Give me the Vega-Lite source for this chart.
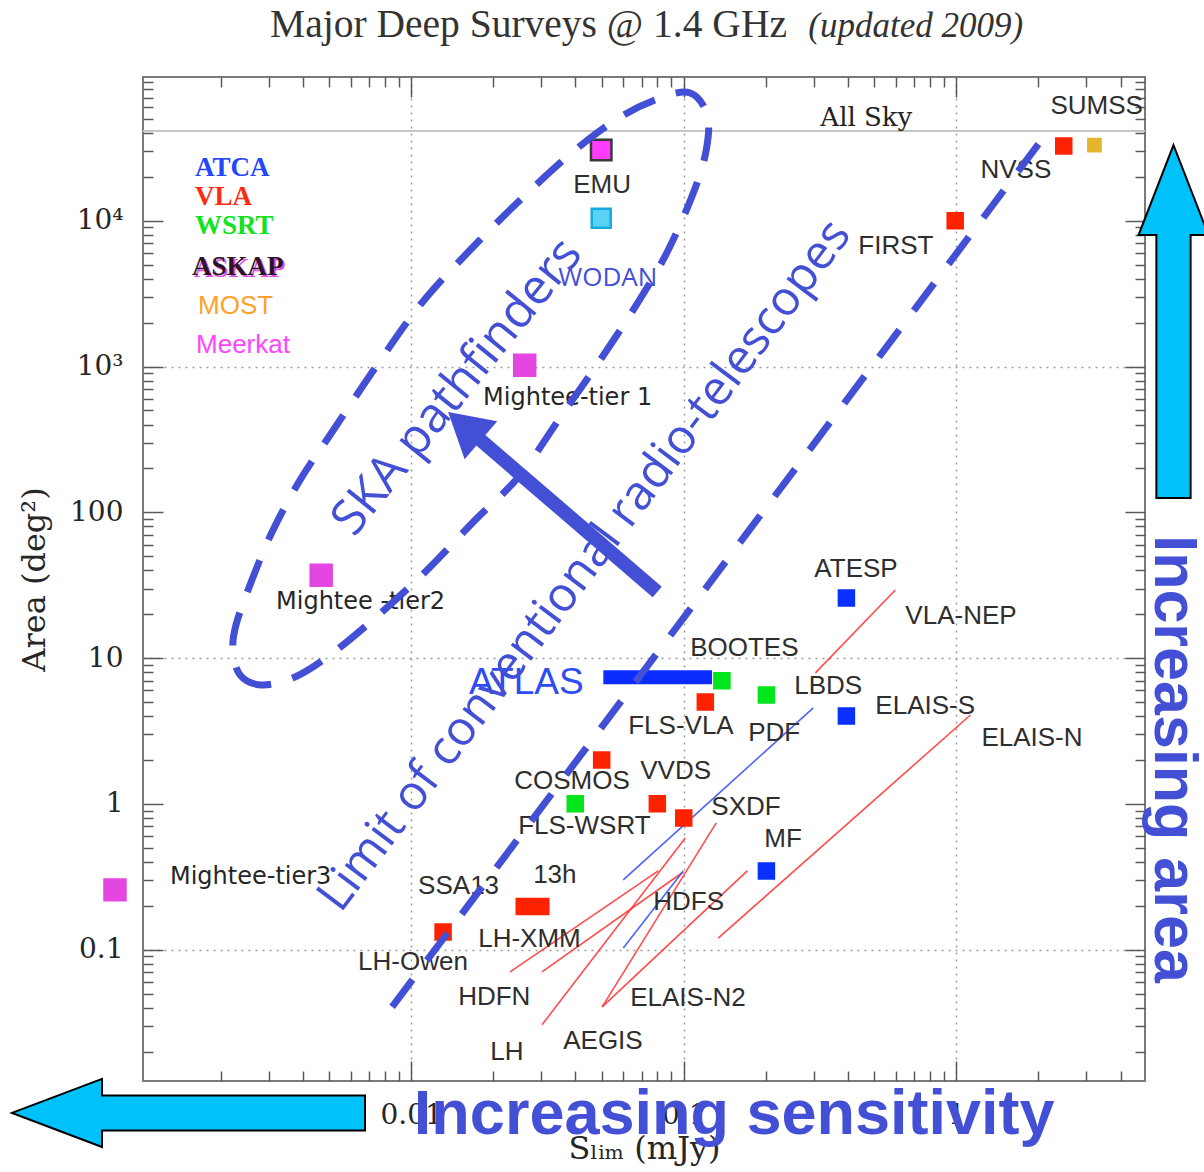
{
  "$schema": "https://vega.github.io/schema/vega-lite/v6.json",
  "width": 1002,
  "height": 1004,
  "autosize": {"type": "none"},
  "padding": {"left": 143, "top": 77, "right": 59, "bottom": 91},
  "background": "#ffffff",
  "config": {
    "view": {"stroke": "#7a7a7a", "strokeWidth": 2},
    "axis": {
      "domain": false,
      "grid": false,
      "tickColor": "#5a5a5a",
      "tickWidth": 1.5,
      "labelFont": "DejaVu Serif",
      "labelFontSize": 28,
      "labelColor": "#262626",
      "titleFont": "DejaVu Serif",
      "titleFontSize": 32,
      "titleFontWeight": "normal",
      "titleColor": "#262626"
    }
  },
  "datasets": {
    "sky": [{"area": 41253}],
    "surveys": [
      {"name": "EMU", "tel": "ASKAP", "s": 0.0498, "area": 30540},
      {"name": "WODAN", "tel": "Apertif", "s": 0.0498, "area": 10400},
      {"name": "Mightee-tier 1", "tel": "Meerkat", "s": 0.0261, "area": 1020},
      {"name": "Mightee-tier2", "tel": "Meerkat", "s": 0.00468, "area": 37},
      {"name": "Mightee-tier3", "tel": "Meerkat", "s": 0.00082, "area": 0.257},
      {"name": "NVSS", "tel": "VLA", "s": 2.476, "area": 32530},
      {"name": "SUMSS", "tel": "MOST", "s": 3.209, "area": 33060},
      {"name": "FIRST", "tel": "VLA", "s": 0.99, "area": 10000},
      {"name": "ATESP", "tel": "ATCA", "s": 0.395, "area": 25.8},
      {"name": "ELAIS-S", "tel": "ATCA", "s": 0.395, "area": 4.0},
      {"name": "MF", "tel": "ATCA", "s": 0.201, "area": 0.347},
      {"name": "BOOTES", "tel": "WSRT", "s": 0.138, "area": 7.0},
      {"name": "PDF", "tel": "WSRT", "s": 0.201, "area": 5.58},
      {"name": "FLS-VLA", "tel": "VLA", "s": 0.12, "area": 5.0},
      {"name": "COSMOS", "tel": "VLA", "s": 0.05, "area": 2.0},
      {"name": "FLS-WSRT", "tel": "WSRT", "s": 0.04, "area": 1.0},
      {"name": "VVDS", "tel": "VLA", "s": 0.08, "area": 1.0},
      {"name": "SXDF", "tel": "VLA", "s": 0.1, "area": 0.8},
      {"name": "13h", "tel": "VLA", "s": 0.026, "area": 0.198},
      {"name": "13h", "tel": "VLA", "s": 0.0299, "area": 0.198},
      {"name": "SSA13", "tel": "VLA", "s": 0.0131, "area": 0.132}
    ],
    "tracks": [
      {"id": "VLA-NEP", "tel": "VLA", "s": 0.304, "area": 7.91},
      {"id": "VLA-NEP", "tel": "VLA", "s": 0.597, "area": 29.3},
      {"id": "ELAIS-N", "tel": "VLA", "s": 0.1338, "area": 0.12},
      {"id": "ELAIS-N", "tel": "VLA", "s": 1.126, "area": 4.07},
      {"id": "HDFN", "tel": "VLA", "s": 0.02307, "area": 0.0703},
      {"id": "HDFN", "tel": "VLA", "s": 0.0806, "area": 0.3467},
      {"id": "LH-XMM", "tel": "VLA", "s": 0.0302, "area": 0.0703},
      {"id": "LH-XMM", "tel": "VLA", "s": 0.0996, "area": 0.341},
      {"id": "LH", "tel": "VLA", "s": 0.0302, "area": 0.0305},
      {"id": "LH", "tel": "VLA", "s": 0.1013, "area": 0.583},
      {"id": "AEGIS", "tel": "VLA", "s": 0.0502, "area": 0.0405},
      {"id": "AEGIS", "tel": "VLA", "s": 0.1316, "area": 0.74},
      {"id": "ELAIS-N2", "tel": "VLA", "s": 0.0502, "area": 0.0405},
      {"id": "ELAIS-N2", "tel": "VLA", "s": 0.171, "area": 0.3467},
      {"id": "LBDS", "tel": "ATCA", "s": 0.06, "area": 0.3006},
      {"id": "LBDS", "tel": "ATCA", "s": 0.2985, "area": 4.55},
      {"id": "HDFS", "tel": "ATCA", "s": 0.06, "area": 0.1028},
      {"id": "HDFS", "tel": "ATCA", "s": 0.0996, "area": 0.3467}
    ],
    "atlas": [{"s0": 0.0507, "s1": 0.127, "area": 7.4}],
    "names": [
      {"text": "SUMSS", "s": 2.213, "area": 61200},
      {"text": "NVSS", "s": 1.225, "area": 22270},
      {"text": "FIRST", "s": 0.4368, "area": 6707},
      {"text": "EMU", "s": 0.03931, "area": 17580},
      {"text": "ATESP", "s": 0.3013, "area": 40.85},
      {"text": "VLA-NEP", "s": 0.6499, "area": 19.45},
      {"text": "BOOTES", "s": 0.1056, "area": 11.73},
      {"text": "LBDS", "s": 0.2543, "area": 6.437},
      {"text": "ELAIS-S", "s": 0.5044, "area": 4.693},
      {"text": "ELAIS-N", "s": 1.235, "area": 2.831},
      {"text": "FLS-VLA", "s": 0.06255, "area": 3.422},
      {"text": "PDF", "s": 0.1724, "area": 3.064},
      {"text": "COSMOS", "s": 0.02388, "area": 1.436},
      {"text": "VVDS", "s": 0.06925, "area": 1.681},
      {"text": "FLS-WSRT", "s": 0.0247, "area": 0.7055},
      {"text": "SXDF", "s": 0.1262, "area": 0.9521},
      {"text": "MF", "s": 0.1974, "area": 0.5743},
      {"text": "SSA13", "s": 0.01061, "area": 0.2734},
      {"text": "13h", "s": 0.02803, "area": 0.3253},
      {"text": "HDFS", "s": 0.07727, "area": 0.2125},
      {"text": "LH-XMM", "s": 0.01762, "area": 0.1184},
      {"text": "LH-Owen", "s": 0.006391, "area": 0.08234},
      {"text": "HDFN", "s": 0.01488, "area": 0.04738},
      {"text": "ELAIS-N2", "s": 0.06363, "area": 0.04663},
      {"text": "AEGIS", "s": 0.03613, "area": 0.02365},
      {"text": "LH", "s": 0.0195, "area": 0.01988}
    ],
    "mightee": [
      {"text": "Mightee-tier 1", "s": 0.01837, "area": 608.1},
      {"text": "Mightee -tier2", "s": 0.003196, "area": 24.25},
      {"text": "Mightee-tier3", "s": 0.001305, "area": 0.3152}
    ],
    "key": [
      {"text": "ATCA", "tel": "ATCA", "s": 0.001612, "area": 22990},
      {"text": "VLA", "tel": "VLA", "s": 0.001612, "area": 14540},
      {"text": "WSRT", "tel": "WSRT", "s": 0.001612, "area": 9196},
      {"text": "ASKAP", "tel": "ASKAP", "s": 0.001571, "area": 4812},
      {"text": "MOST", "tel": "MOST", "s": 0.001654, "area": 2600},
      {"text": "Meerkat", "tel": "Meerkat", "s": 0.001626, "area": 1404}
    ],
    "pathfinders": [
      {"i": 0, "s": 0.002222, "area": 11.36},
      {"i": 1, "s": 0.002358, "area": 7.66},
      {"i": 2, "s": 0.002838, "area": 6.54},
      {"i": 3, "s": 0.003752, "area": 7.42},
      {"i": 4, "s": 0.005044, "area": 10.5},
      {"i": 5, "s": 0.007377, "area": 18.84},
      {"i": 6, "s": 0.011256, "area": 38.96},
      {"i": 7, "s": 0.01718, "area": 88.55},
      {"i": 8, "s": 0.02512, "area": 180.3},
      {"i": 9, "s": 0.03613, "area": 479.9},
      {"i": 10, "s": 0.04938, "area": 1108},
      {"i": 11, "s": 0.06808, "area": 2770},
      {"i": 12, "s": 0.08697, "area": 6100},
      {"i": 13, "s": 0.1084, "area": 15490},
      {"i": 14, "s": 0.1209, "area": 30540},
      {"i": 15, "s": 0.122, "area": 53090},
      {"i": 16, "s": 0.1056, "area": 75130},
      {"i": 17, "s": 0.08199, "area": 69430},
      {"i": 18, "s": 0.05848, "area": 51430},
      {"i": 19, "s": 0.03997, "area": 30540},
      {"i": 20, "s": 0.02555, "area": 14310},
      {"i": 21, "s": 0.01646, "area": 6295},
      {"i": 22, "s": 0.01079, "area": 2642},
      {"i": 23, "s": 0.007377, "area": 976.6},
      {"i": 24, "s": 0.005044, "area": 339.0},
      {"i": 25, "s": 0.003915, "area": 166.5},
      {"i": 26, "s": 0.003091, "area": 73.25},
      {"i": 27, "s": 0.002565, "area": 31.72},
      {"i": 28, "s": 0.002279, "area": 16.87}
    ],
    "limit": [
      {"s": 0.00852, "area": 0.0405},
      {"s": 2.213, "area": 43200}
    ],
    "notes": [
      {"text": "SKA pathfinders", "s": 0.01475, "area": 723.5},
      {"text": "Limit of conventional radio-telescopes", "s": 0.04349, "area": 42.82}
    ],
    "wodan": [{"text": "WODAN", "s": 0.03462, "area": 4046}],
    "atlasName": [{"text": "ATLAS", "s": 0.01632, "area": 6.75}],
    "push": [{"s0": 0.07993, "a0": 28.41, "s1": 0.01762, "a1": 323.3, "s": 0.0157, "area": 390.1}],
    "heading": [
      {"text": "Major Deep Surveys @ 1.4 GHz", "s": 0.003039, "area": 181970},
      {"text": "(updated 2009)", "s": 0.2863, "area": 181970}
    ],
    "skyName": [{"text": "All Sky", "s": 0.317, "area": 50630}],
    "pointers": [
      {"dir": "sensitivity", "s": 0.001526, "area": 0.007586},
      {"dir": "area", "s": 6.256, "area": 2035}
    ],
    "captions": [
      {"text": "Increasing sensitivity", "s": 0.1532, "area": 0.005445},
      {"text": "Increasing area", "s": 5.373, "area": 2.03}
    ]
  },
  "layer": [
    {
      "data": {"name": "sky"},
      "mark": {"type": "rule", "color": "#c4c4c4", "strokeWidth": 2},
      "encoding": {
        "y": {"field": "area", "type": "quantitative", "scale": {"type": "log", "domain": [0.01256, 96800], "nice": false}, "axis": null}
      }
    },
    {
      "data": {"name": "tracks"},
      "mark": {"type": "line", "strokeWidth": 1.6, "opacity": 0.85},
      "encoding": {
        "x": {"field": "s", "type": "quantitative", "scale": {"type": "log", "domain": [0.001039, 4.918], "nice": false}, "axis": null},
        "y": {"field": "area", "type": "quantitative", "scale": {"type": "log", "domain": [0.01256, 96800], "nice": false},
              "axis": {"orient": "left", "values": [0.1, 10, 1000], "ticks": false, "labels": false, "grid": true, "gridDash": [2, 5], "gridColor": "#9c9c9c", "gridWidth": 1.5, "title": null}},
        "detail": {"field": "id"},
        "color": {"field": "tel", "type": "nominal", "scale": {"domain": ["VLA", "ATCA"], "range": ["#ff2d2d", "#2f46ff"]}, "legend": null}
      }
    },
    {
      "data": {"name": "surveys"},
      "mark": {"type": "point", "shape": "square", "filled": true, "opacity": 1, "strokeWidth": 2.5, "clip": false},
      "encoding": {
        "x": {"field": "s", "type": "quantitative", "scale": {"type": "log", "domain": [0.001039, 4.918], "nice": false},
              "axis": {"orient": "bottom", "values": [0.01, 0.1, 1], "labelExpr": "datum.value < 0.05 ? '0.01' : datum.value < 0.5 ? '0.1' : '1'", "tickSize": -20, "labelPadding": 40, "labelFlush": false, "labelOverlap": false, "grid": true, "gridDash": [2, 5], "gridColor": "#9c9c9c", "gridWidth": 1.5, "title": "Sₗᵢₘ (mJy)", "titlePadding": 4}},
        "y": {"field": "area", "type": "quantitative", "scale": {"type": "log", "domain": [0.01256, 96800], "nice": false},
              "axis": {"orient": "left", "values": [0.1, 1, 10, 100, 1000, 10000], "labelExpr": "datum.value >= 5000 ? '10⁴' : datum.value >= 500 ? '10³' : datum.value >= 50 ? '100' : datum.value >= 5 ? '10' : datum.value >= 0.5 ? '1' : '0.1'", "tickSize": -20, "labelPadding": 40, "labelFlush": false, "labelOverlap": false, "title": "Area (deg²)", "titlePadding": 18}},
        "fill": {"field": "tel", "type": "nominal", "scale": {"domain": ["ATCA", "VLA", "WSRT", "ASKAP", "MOST", "Meerkat", "Apertif"], "range": ["#0a30ff", "#ff2200", "#00e51c", "#ff3cff", "#e6b52e", "#e446e2", "#5ad2f6"]}, "legend": null},
        "stroke": {"field": "tel", "type": "nominal", "scale": {"domain": ["ATCA", "VLA", "WSRT", "ASKAP", "MOST", "Meerkat", "Apertif"], "range": ["#0a30ff", "#ff2200", "#00e51c", "#3a3a3a", "#e6b52e", "#e446e2", "#14acdf"]}, "legend": null},
        "size": {"field": "tel", "type": "nominal", "scale": {"type": "ordinal", "domain": ["ATCA", "VLA", "WSRT", "ASKAP", "MOST", "Meerkat", "Apertif"], "range": [225, 225, 225, 420, 150, 440, 360]}, "legend": null}
      }
    },
    {
      "data": {"name": "atlas"},
      "mark": {"type": "rule", "color": "#0a2cff", "strokeWidth": 14},
      "encoding": {
        "x": {"field": "s0", "type": "quantitative", "scale": {"type": "log", "domain": [0.001039, 4.918], "nice": false}, "axis": null},
        "x2": {"field": "s1"},
        "y": {"field": "area", "type": "quantitative", "scale": {"type": "log", "domain": [0.01256, 96800], "nice": false}, "axis": null}
      }
    },
    {
      "data": {"name": "names"},
      "mark": {"type": "text", "align": "left", "baseline": "middle", "font": "Liberation Sans", "fontSize": 26, "color": "#2e2e2e", "clip": false},
      "encoding": {
        "x": {"field": "s", "type": "quantitative", "scale": {"type": "log", "domain": [0.001039, 4.918], "nice": false},
              "axis": {"orient": "bottom", "values": [0.002, 0.003, 0.004, 0.005, 0.006, 0.007, 0.008, 0.009, 0.02, 0.03, 0.04, 0.05, 0.06, 0.07, 0.08, 0.09, 0.2, 0.3, 0.4, 0.5, 0.6, 0.7, 0.8, 0.9, 2, 3, 4], "tickSize": -10, "labels": false, "title": null}},
        "y": {"field": "area", "type": "quantitative", "scale": {"type": "log", "domain": [0.01256, 96800], "nice": false},
              "axis": {"orient": "left", "values": [0.02, 0.03, 0.04, 0.05, 0.06, 0.07, 0.08, 0.09, 0.2, 0.3, 0.4, 0.5, 0.6, 0.7, 0.8, 0.9, 2, 3, 4, 5, 6, 7, 8, 9, 20, 30, 40, 50, 60, 70, 80, 90, 200, 300, 400, 500, 600, 700, 800, 900, 2000, 3000, 4000, 5000, 6000, 7000, 8000, 9000, 20000, 30000, 40000, 50000, 60000, 70000, 80000, 90000], "tickSize": -10, "labels": false, "title": null}},
        "text": {"field": "text"}
      }
    },
    {
      "data": {"name": "mightee"},
      "mark": {"type": "text", "align": "left", "baseline": "middle", "font": "DejaVu Sans", "fontSize": 24, "color": "#262626", "clip": false},
      "encoding": {
        "x": {"field": "s", "type": "quantitative", "scale": {"type": "log", "domain": [0.001039, 4.918], "nice": false}, "axis": null},
        "y": {"field": "area", "type": "quantitative", "scale": {"type": "log", "domain": [0.01256, 96800], "nice": false}, "axis": null},
        "text": {"field": "text"}
      }
    },
    {
      "data": {"name": "key"},
      "transform": [{"filter": "datum.tel === 'ASKAP'"}],
      "mark": {"type": "text", "align": "left", "baseline": "middle", "font": "Liberation Serif", "fontSize": 27, "fontWeight": "bold", "color": "#e21fe2", "dx": 2, "dy": 2, "opacity": 0.8},
      "encoding": {
        "x": {"field": "s", "type": "quantitative", "scale": {"type": "log", "domain": [0.001039, 4.918], "nice": false}, "axis": null},
        "y": {"field": "area", "type": "quantitative", "scale": {"type": "log", "domain": [0.01256, 96800], "nice": false}, "axis": null},
        "text": {"field": "text"}
      }
    },
    {
      "data": {"name": "key"},
      "transform": [{"filter": "datum.tel === 'ATCA' || datum.tel === 'VLA' || datum.tel === 'WSRT' || datum.tel === 'ASKAP'"}],
      "mark": {"type": "text", "align": "left", "baseline": "middle", "font": "Liberation Serif", "fontSize": 27, "fontWeight": "bold"},
      "encoding": {
        "x": {"field": "s", "type": "quantitative", "scale": {"type": "log", "domain": [0.001039, 4.918], "nice": false}, "axis": null},
        "y": {"field": "area", "type": "quantitative", "scale": {"type": "log", "domain": [0.01256, 96800], "nice": false}, "axis": null},
        "text": {"field": "text"},
        "color": {"field": "tel", "type": "nominal", "scale": {"domain": ["ATCA", "VLA", "WSRT", "ASKAP"], "range": ["#2347ff", "#ff2b12", "#12e31c", "#2a142a"]}, "legend": null}
      }
    },
    {
      "data": {"name": "key"},
      "transform": [{"filter": "datum.tel === 'MOST' || datum.tel === 'Meerkat'"}],
      "mark": {"type": "text", "align": "left", "baseline": "middle", "font": "Liberation Sans", "fontSize": 26},
      "encoding": {
        "x": {"field": "s", "type": "quantitative", "scale": {"type": "log", "domain": [0.001039, 4.918], "nice": false}, "axis": null},
        "y": {"field": "area", "type": "quantitative", "scale": {"type": "log", "domain": [0.01256, 96800], "nice": false}, "axis": null},
        "text": {"field": "text"},
        "color": {"field": "tel", "type": "nominal", "scale": {"domain": ["MOST", "Meerkat"], "range": ["#ffa22a", "#ff45ff"]}, "legend": null}
      }
    },
    {
      "data": {"name": "atlasName"},
      "mark": {"type": "text", "align": "left", "baseline": "middle", "font": "Liberation Sans", "fontSize": 37, "color": "#2d4cf5"},
      "encoding": {
        "x": {"field": "s", "type": "quantitative", "scale": {"type": "log", "domain": [0.001039, 4.918], "nice": false}, "axis": null},
        "y": {"field": "area", "type": "quantitative", "scale": {"type": "log", "domain": [0.01256, 96800], "nice": false}, "axis": null},
        "text": {"field": "text"}
      }
    },
    {
      "data": {"name": "wodan"},
      "mark": {"type": "text", "align": "left", "baseline": "middle", "font": "Open Sans", "fontSize": 26, "color": "#4350d6"},
      "encoding": {
        "x": {"field": "s", "type": "quantitative", "scale": {"type": "log", "domain": [0.001039, 4.918], "nice": false}, "axis": null},
        "y": {"field": "area", "type": "quantitative", "scale": {"type": "log", "domain": [0.01256, 96800], "nice": false}, "axis": null},
        "text": {"field": "text"}
      }
    },
    {
      "data": {"name": "pathfinders"},
      "mark": {"type": "line", "interpolate": "cardinal-closed", "color": "#4350d6", "strokeWidth": 7, "strokeDash": [34, 22], "strokeCap": "butt"},
      "encoding": {
        "x": {"field": "s", "type": "quantitative", "scale": {"type": "log", "domain": [0.001039, 4.918], "nice": false},
              "axis": {"orient": "top", "values": [0.01, 0.1, 1], "tickSize": -20, "labels": false, "title": null}},
        "y": {"field": "area", "type": "quantitative", "scale": {"type": "log", "domain": [0.01256, 96800], "nice": false},
              "axis": {"orient": "right", "values": [0.1, 1, 10, 100, 1000, 10000], "tickSize": -20, "labels": false, "title": null}},
        "order": {"field": "i", "type": "quantitative"}
      }
    },
    {
      "data": {"name": "limit"},
      "mark": {"type": "line", "color": "#4350d6", "strokeWidth": 7, "strokeDash": [34, 24], "strokeCap": "butt"},
      "encoding": {
        "x": {"field": "s", "type": "quantitative", "scale": {"type": "log", "domain": [0.001039, 4.918], "nice": false},
              "axis": {"orient": "top", "values": [0.002, 0.003, 0.004, 0.005, 0.006, 0.007, 0.008, 0.009, 0.02, 0.03, 0.04, 0.05, 0.06, 0.07, 0.08, 0.09, 0.2, 0.3, 0.4, 0.5, 0.6, 0.7, 0.8, 0.9, 2, 3, 4], "tickSize": -10, "labels": false, "title": null}},
        "y": {"field": "area", "type": "quantitative", "scale": {"type": "log", "domain": [0.01256, 96800], "nice": false},
              "axis": {"orient": "right", "values": [0.02, 0.03, 0.04, 0.05, 0.06, 0.07, 0.08, 0.09, 0.2, 0.3, 0.4, 0.5, 0.6, 0.7, 0.8, 0.9, 2, 3, 4, 5, 6, 7, 8, 9, 20, 30, 40, 50, 60, 70, 80, 90, 200, 300, 400, 500, 600, 700, 800, 900, 2000, 3000, 4000, 5000, 6000, 7000, 8000, 9000, 20000, 30000, 40000, 50000, 60000, 70000, 80000, 90000], "tickSize": -10, "labels": false, "title": null}}
      }
    },
    {
      "data": {"name": "notes"},
      "transform": [{"filter": "datum.text === 'SKA pathfinders'"}],
      "mark": {"type": "text", "align": "center", "baseline": "middle", "font": "Open Sans", "fontSize": 49, "color": "#4350d6", "angle": 309},
      "encoding": {
        "x": {"field": "s", "type": "quantitative", "scale": {"type": "log", "domain": [0.001039, 4.918], "nice": false}, "axis": null},
        "y": {"field": "area", "type": "quantitative", "scale": {"type": "log", "domain": [0.01256, 96800], "nice": false}, "axis": null},
        "text": {"field": "text"}
      }
    },
    {
      "data": {"name": "notes"},
      "transform": [{"filter": "datum.text !== 'SKA pathfinders'"}],
      "mark": {"type": "text", "align": "center", "baseline": "middle", "font": "Open Sans", "fontSize": 48, "color": "#4350d6", "angle": 307},
      "encoding": {
        "x": {"field": "s", "type": "quantitative", "scale": {"type": "log", "domain": [0.001039, 4.918], "nice": false}, "axis": null},
        "y": {"field": "area", "type": "quantitative", "scale": {"type": "log", "domain": [0.01256, 96800], "nice": false}, "axis": null},
        "text": {"field": "text"}
      }
    },
    {
      "data": {"name": "push"},
      "mark": {"type": "rule", "color": "#4350d6", "strokeWidth": 14, "strokeCap": "butt"},
      "encoding": {
        "x": {"field": "s0", "type": "quantitative", "scale": {"type": "log", "domain": [0.001039, 4.918], "nice": false}, "axis": null},
        "y": {"field": "a0", "type": "quantitative", "scale": {"type": "log", "domain": [0.01256, 96800], "nice": false}, "axis": null},
        "x2": {"field": "s1"},
        "y2": {"field": "a1"}
      }
    },
    {
      "data": {"name": "push"},
      "mark": {"type": "point", "shape": "triangle-up", "filled": true, "color": "#4350d6", "opacity": 1, "size": 2500, "angle": 310.7},
      "encoding": {
        "x": {"field": "s", "type": "quantitative", "scale": {"type": "log", "domain": [0.001039, 4.918], "nice": false}, "axis": null},
        "y": {"field": "area", "type": "quantitative", "scale": {"type": "log", "domain": [0.01256, 96800], "nice": false}, "axis": null}
      }
    },
    {
      "data": {"name": "heading"},
      "transform": [{"filter": "datum.text !== '(updated 2009)'"}],
      "mark": {"type": "text", "align": "left", "baseline": "alphabetic", "font": "Liberation Serif", "fontSize": 39.5, "color": "#333333", "clip": false},
      "encoding": {
        "x": {"field": "s", "type": "quantitative", "scale": {"type": "log", "domain": [0.001039, 4.918], "nice": false}, "axis": null},
        "y": {"field": "area", "type": "quantitative", "scale": {"type": "log", "domain": [0.01256, 96800], "nice": false}, "axis": null},
        "text": {"field": "text"}
      }
    },
    {
      "data": {"name": "heading"},
      "transform": [{"filter": "datum.text === '(updated 2009)'"}],
      "mark": {"type": "text", "align": "left", "baseline": "alphabetic", "font": "Liberation Serif", "fontStyle": "italic", "fontSize": 35, "color": "#333333", "clip": false},
      "encoding": {
        "x": {"field": "s", "type": "quantitative", "scale": {"type": "log", "domain": [0.001039, 4.918], "nice": false}, "axis": null},
        "y": {"field": "area", "type": "quantitative", "scale": {"type": "log", "domain": [0.01256, 96800], "nice": false}, "axis": null},
        "text": {"field": "text"}
      }
    },
    {
      "data": {"name": "skyName"},
      "mark": {"type": "text", "align": "left", "baseline": "middle", "font": "DejaVu Serif", "fontSize": 26, "color": "#222222"},
      "encoding": {
        "x": {"field": "s", "type": "quantitative", "scale": {"type": "log", "domain": [0.001039, 4.918], "nice": false}, "axis": null},
        "y": {"field": "area", "type": "quantitative", "scale": {"type": "log", "domain": [0.01256, 96800], "nice": false}, "axis": null},
        "text": {"field": "text"}
      }
    },
    {
      "data": {"name": "pointers"},
      "transform": [{"filter": "datum.dir === 'sensitivity'"}],
      "mark": {"type": "point", "shape": "M-1,0L-0.49,-0.193L-0.49,-0.099L1,-0.099L1,0.099L-0.49,0.099L-0.49,0.193Z", "filled": true, "fill": "#00c2fb", "stroke": "#000000", "strokeWidth": 2, "opacity": 1, "size": 124609, "clip": false},
      "encoding": {
        "x": {"field": "s", "type": "quantitative", "scale": {"type": "log", "domain": [0.001039, 4.918], "nice": false}, "axis": null},
        "y": {"field": "area", "type": "quantitative", "scale": {"type": "log", "domain": [0.01256, 96800], "nice": false}, "axis": null}
      }
    },
    {
      "data": {"name": "pointers"},
      "transform": [{"filter": "datum.dir === 'area'"}],
      "mark": {"type": "point", "shape": "M-1,0L-0.49,-0.198L-0.49,-0.097L1,-0.097L1,0.097L-0.49,0.097L-0.49,0.198Z", "filled": true, "fill": "#00c2fb", "stroke": "#000000", "strokeWidth": 2, "opacity": 1, "size": 124609, "angle": 90, "clip": false},
      "encoding": {
        "x": {"field": "s", "type": "quantitative", "scale": {"type": "log", "domain": [0.001039, 4.918], "nice": false}, "axis": null},
        "y": {"field": "area", "type": "quantitative", "scale": {"type": "log", "domain": [0.01256, 96800], "nice": false}, "axis": null}
      }
    },
    {
      "data": {"name": "captions"},
      "transform": [{"filter": "datum.text === 'Increasing sensitivity'"}],
      "mark": {"type": "text", "align": "center", "baseline": "alphabetic", "font": "Liberation Sans", "fontWeight": "bold", "fontSize": 63, "color": "#4350d6", "clip": false},
      "encoding": {
        "x": {"field": "s", "type": "quantitative", "scale": {"type": "log", "domain": [0.001039, 4.918], "nice": false}, "axis": null},
        "y": {"field": "area", "type": "quantitative", "scale": {"type": "log", "domain": [0.01256, 96800], "nice": false}, "axis": null},
        "text": {"field": "text"}
      }
    },
    {
      "data": {"name": "captions"},
      "transform": [{"filter": "datum.text === 'Increasing area'"}],
      "mark": {"type": "text", "align": "center", "baseline": "alphabetic", "font": "Liberation Sans", "fontWeight": "bold", "fontSize": 61, "color": "#4350d6", "angle": 90, "clip": false},
      "encoding": {
        "x": {"field": "s", "type": "quantitative", "scale": {"type": "log", "domain": [0.001039, 4.918], "nice": false}, "axis": null},
        "y": {"field": "area", "type": "quantitative", "scale": {"type": "log", "domain": [0.01256, 96800], "nice": false}, "axis": null},
        "text": {"field": "text"}
      }
    }
  ],
  "resolve": {
    "axis": {"x": "independent", "y": "independent"},
    "scale": {"color": "independent"}
  }
}
